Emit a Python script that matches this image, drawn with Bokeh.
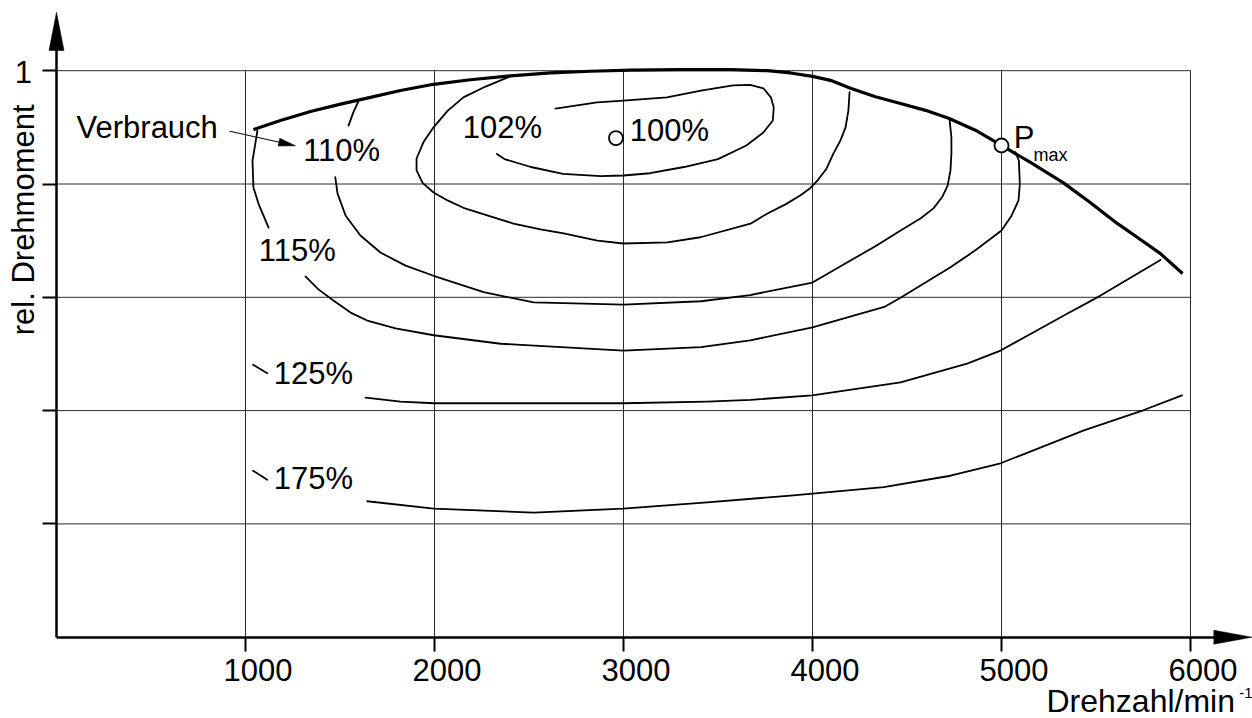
import numpy as np
from bokeh.plotting import figure
from bokeh.models import LinearAxis, FixedTicker, Range1d
from bokeh.core.properties import value
from bokeh.embed import file_html
from bokeh.resources import INLINE

# ---------------- data ----------------
x_ticks = [1000, 2000, 3000, 4000, 5000, 6000]
x_tick_labels = ["1000", "2000", "3000", "4000", "5000", "6000"]
y_ticks = [0.2, 0.4, 0.6, 0.8, 1.0]
y_labeled_ticks = [1.0]
y_tick_labels = ["1"]

full_rpm = [1042, 1185, 1344, 1503, 1661, 1820, 1995, 2190, 2402, 2614, 2825, 3037, 3302, 3566, 3762,
            3884, 4000, 4095, 4201, 4333, 4466, 4598, 4720, 4862, 5000, 5153, 5328, 5471, 5614, 5735,
            5841, 5958]
full_torque = [0.896, 0.912, 0.928, 0.941, 0.953, 0.965, 0.976, 0.984, 0.991, 0.996, 0.999, 1.001,
               1.002, 1.002, 1.000, 0.996, 0.990, 0.983, 0.969, 0.954, 0.942, 0.930, 0.916, 0.895,
               0.868, 0.838, 0.802, 0.767, 0.730, 0.702, 0.677, 0.642]

c102_rpm = [2640, 2860, 3000, 3230, 3410, 3580, 3670, 3740, 3780, 3795, 3790, 3740, 3650, 3500,
            3320, 3140, 3000, 2880, 2680, 2510, 2370, 2330]
c102_torque = [0.933, 0.944, 0.947, 0.953, 0.965, 0.974, 0.975, 0.969, 0.953, 0.935, 0.912, 0.891,
               0.868, 0.844, 0.830, 0.819, 0.815, 0.814, 0.818, 0.830, 0.844, 0.853]

c105_rpm = [2402, 2270, 2153, 2069, 1995, 1942, 1905, 1905, 1937, 1995, 2069, 2153, 2296, 2418, 2561,
            2683, 2862, 2999, 3233, 3407, 3672, 3762, 3857, 3937, 3989, 4026, 4074, 4111, 4148, 4175,
            4190, 4196]
c105_torque = [0.990, 0.972, 0.953, 0.929, 0.900, 0.874, 0.845, 0.824, 0.802, 0.785, 0.771, 0.758,
               0.743, 0.730, 0.720, 0.713, 0.700, 0.695, 0.697, 0.706, 0.730, 0.748, 0.764, 0.780,
               0.793, 0.806, 0.827, 0.854, 0.877, 0.900, 0.930, 0.962]

c110a_rpm = [1600, 1570, 1545]
c110a_torque = [0.948, 0.926, 0.903]
c110_rpm = [1475, 1487, 1530, 1608, 1714, 1847, 1995, 2260, 2525, 3000, 3410, 3670, 4000, 4201,
            4333, 4466, 4571, 4640, 4688, 4715, 4730, 4735, 4735, 4725]
c110_torque = [0.812, 0.783, 0.744, 0.709, 0.679, 0.656, 0.638, 0.609, 0.591, 0.587, 0.593, 0.604,
               0.626, 0.665, 0.690, 0.718, 0.739, 0.757, 0.778, 0.797, 0.824, 0.854, 0.882, 0.914]

c115a_rpm = [1063, 1037, 1042, 1069, 1122]
c115a_torque = [0.894, 0.841, 0.794, 0.765, 0.723]
c115_rpm = [1317, 1386, 1467, 1556, 1644, 1794, 1996, 2350, 3000, 3410, 3670, 4000, 4380, 4470,
            4730, 4862, 5000, 5053, 5090, 5097, 5092, 5074]
c115_torque = [0.637, 0.614, 0.594, 0.573, 0.559, 0.545, 0.533, 0.518, 0.506, 0.512, 0.524, 0.547,
               0.583, 0.600, 0.653, 0.683, 0.718, 0.744, 0.771, 0.800, 0.841, 0.856]

c125a_rpm = [1040, 1115]
c125a_torque = [0.481, 0.466]
c125_rpm = [1635, 1820, 1996, 3000, 3443, 3672, 3998, 4466, 4818, 4995, 5347, 5524, 5841]
c125_torque = [0.423, 0.416, 0.413, 0.413, 0.416, 0.419, 0.427, 0.450, 0.483, 0.506, 0.571, 0.603, 0.666]

c175a_rpm = [1040, 1115]
c175a_torque = [0.294, 0.278]
c175_rpm = [1644, 1996, 2526, 2998, 3443, 3884, 4377, 4730, 4995, 5436, 5753, 5955]
c175_torque = [0.240, 0.227, 0.220, 0.227, 0.238, 0.250, 0.265, 0.285, 0.307, 0.365, 0.401, 0.427]

best_rpm = [2960]
best_torque = [0.881]
pmax_rpm = [5000]
pmax_torque = [0.868]

labels = ["Verbrauch", "110%", "102%", "100%", "115%", "125%", "175%", "P"]
label_rpm = [106, 1305, 2150, 3033, 1070, 1150, 1150, 5065]
label_torque = [0.883, 0.841, 0.8815, 0.877, 0.665, 0.448, 0.262, 0.865]

# ---------------- geometry ----------------
W, H = 1252, 718
X0_PX, Y0_PX = 56.0, 636.7       # canvas pixel of the origin
SX, SY = 0.189, 566.5             # px per rpm, px per unit torque

x_range = Range1d(-X0_PX / SX, (W - X0_PX) / SX)
y_range = Range1d(-(H - Y0_PX) / SY, Y0_PX / SY)

p = figure(width=W, height=H, x_range=x_range, y_range=y_range,
           x_axis_type=None, y_axis_type=None,
           output_backend="svg", toolbar_location=None, min_border=0)
p.outline_line_color = None
p.background_fill_color = "white"
p.border_fill_color = "white"

FONT = "Liberation Sans"
FS_PX = 31
FS = f"{FS_PX}px"
SHIFT = 0.32  # em: correction of where the alphabetic baseline lands

# grid
grid_col = "#2a2a2a"
p.segment(x0=x_ticks, y0=[0] * len(x_ticks), x1=x_ticks, y1=[y_ticks[-1]] * len(x_ticks),
          line_color=grid_col, line_width=1)
p.segment(x0=[0] * len(y_ticks), y0=y_ticks, x1=[x_ticks[-1]] * len(y_ticks), y1=y_ticks,
          line_color=grid_col, line_width=1)

# axes (lines and ticks only; labels are drawn as text below)
x_end = (1230 - X0_PX) / SX
y_end = (Y0_PX - 25) / SY
xax = LinearAxis(fixed_location=0, ticker=FixedTicker(ticks=x_ticks), bounds=(0, x_end))
yax = LinearAxis(fixed_location=0, ticker=FixedTicker(ticks=y_ticks), bounds=(0, y_end))
for ax in (xax, yax):
    ax.axis_line_width = 2.5
    ax.axis_line_color = "black"
    ax.major_tick_in = 0
    ax.major_tick_out = 14
    ax.major_tick_line_width = 2
    ax.minor_tick_line_color = None
    ax.major_label_text_color = None
p.add_layout(xax, "below")
p.add_layout(yax, "left")

# arrow heads of the axes
tip_y = (Y0_PX - 11.7) / SY
base_y = (Y0_PX - 50) / SY
hw = 7.5 / SX
p.patch(x=[0, -hw, hw], y=[tip_y, base_y, base_y], color="black", line_width=0.5)
tip_x = (1251.5 - X0_PX) / SX
base_x = (1213.3 - X0_PX) / SX
hh = 7.0 / SY
p.patch(x=[tip_x, base_x, base_x], y=[0, hh, -hh], color="black", line_width=0.5)

# contour lines
thin = dict(line_color="black", line_width=1.8, line_join="round", line_cap="round")
for xs, ys in [(c102_rpm, c102_torque), (c105_rpm, c105_torque),
               (c110a_rpm, c110a_torque), (c110_rpm, c110_torque),
               (c115a_rpm, c115a_torque), (c115_rpm, c115_torque),
               (c125a_rpm, c125a_torque), (c125_rpm, c125_torque),
               (c175a_rpm, c175a_torque), (c175_rpm, c175_torque)]:
    p.line(xs, ys, **thin)

# full-load curve
p.line(full_rpm, full_torque, line_color="black", line_width=3.2, line_join="round")

# markers
p.scatter(best_rpm + pmax_rpm, best_torque + pmax_torque, size=14, marker="circle",
          fill_color="white", line_color="black", line_width=1.8)

# "Verbrauch" arrow
a0 = np.array([229 - X0_PX, 130.7])
a1 = np.array([295 - X0_PX, 145.3])
u = (a1 - a0) / np.linalg.norm(a1 - a0)
n = np.array([-u[1], u[0]])
base = a1 - 17 * u
c1, c2 = base + 4 * n, base - 4 * n
def to_data(pt):
    return pt[0] / SX, (Y0_PX - pt[1]) / SY
l0, l1 = to_data(a0), to_data(base)
p.line([l0[0], l1[0]], [l0[1], l1[1]], line_color="black", line_width=1)
hx, hy = zip(*[to_data(a1), to_data(c1), to_data(c2)])
p.patch(list(hx), list(hy), color="black", line_width=0.5)

# texts
common = dict(text_font=value(FONT), text_baseline="alphabetic", text_color="black")
def sh(px):
    return -SHIFT * px

p.text(x=label_rpm, y=label_torque, text=labels, text_font_size=value(FS),
       text_align="left", y_offset=sh(FS_PX), **common)
p.text(x=[5169], y=[0.841], text=["max"], text_font_size=value("18px"),
       text_align="left", y_offset=sh(18), **common)
p.text(x=[5238], y=[-0.130], text=["Drehzahl/min"], text_font_size=value("32px"),
       text_align="left", y_offset=sh(32), **common)
p.text(x=[6258], y=[-0.1065], text=["-1"], text_font_size=value("15px"),
       text_align="left", y_offset=sh(15), **common)
p.text(x=[-122], y=[0.533], text=["rel. Drehmoment"], angle=np.pi / 2,
       text_font_size=value(FS), text_align="left", x_offset=sh(FS_PX), **common)
# x tick labels (set slightly right of their ticks, as in the original)
p.text(x=x_ticks, y=[0] * len(x_ticks), text=x_tick_labels, text_font_size=value(FS),
       text_align="center", x_offset=12.5, y_offset=679.3 - Y0_PX + sh(FS_PX), **common)
# y tick label
p.text(x=[0] * len(y_labeled_ticks), y=y_labeled_ticks, text=y_tick_labels,
       text_font_size=value(FS), text_align="right", x_offset=-24.4,
       y_offset=11.7 + sh(FS_PX), **common)

open("out.html", "w").write(file_html(p, INLINE))
